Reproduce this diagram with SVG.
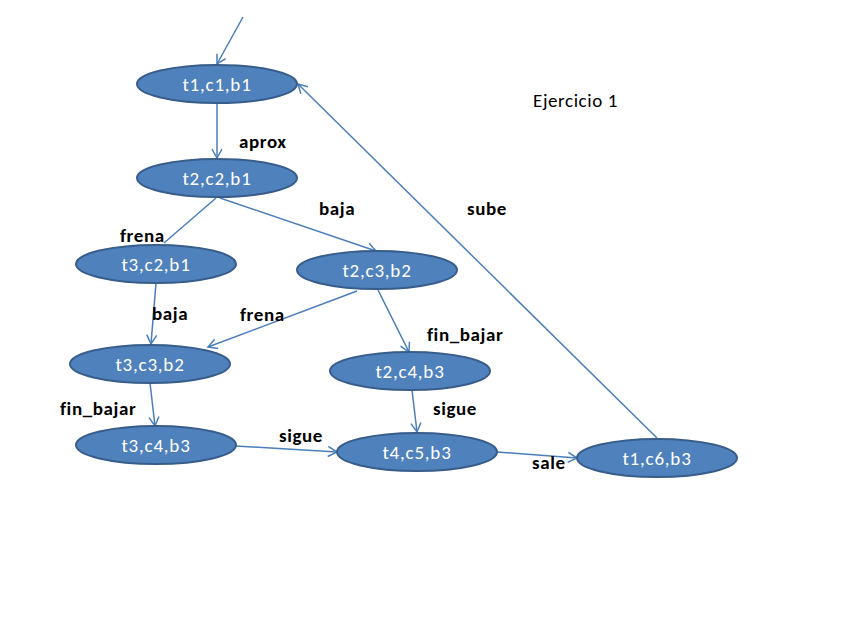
<svg xmlns="http://www.w3.org/2000/svg" width="848" height="636" viewBox="0 0 848 636">
<defs>
<marker id="ah" markerWidth="12" markerHeight="12" refX="10" refY="6" orient="auto" markerUnits="userSpaceOnUse">
<path d="M1,1 L10,6 L1,11" fill="none" stroke="#4A7EBB" stroke-width="1.5"/>
</marker>
<style>
.n ellipse{fill:#4F81BD;stroke:#385D8A;stroke-width:2}
.n text{fill:#fff;font-family:Carlito,"Liberation Sans",sans-serif;font-size:19px;letter-spacing:0.8px;text-anchor:middle}
.c line{stroke:#4A7EBB;stroke-width:1.5;fill:none}
.l{font-family:Carlito,"Liberation Sans",sans-serif;font-size:19px;font-weight:bold;letter-spacing:0.6px;fill:#000}
</style>
</defs>
<rect width="848" height="636" fill="#fff"/>
<g id="connectors" class="c">
<line x1="243" y1="17" x2="217" y2="64" marker-end="url(#ah)"/>
<line x1="217" y1="103" x2="217" y2="158" marker-end="url(#ah)"/>
<line x1="216" y1="198" x2="164" y2="243"/>
<line x1="220" y1="198" x2="376" y2="251" marker-end="url(#ah)"/>
<line x1="156" y1="283" x2="151" y2="344" marker-end="url(#ah)"/>
<line x1="357" y1="291" x2="208" y2="347" marker-end="url(#ah)"/>
<line x1="378" y1="290" x2="409" y2="352" marker-end="url(#ah)"/>
<line x1="150" y1="383" x2="155" y2="426" marker-end="url(#ah)"/>
<line x1="412" y1="390" x2="417" y2="432" marker-end="url(#ah)"/>
<line x1="236" y1="446" x2="337" y2="452" marker-end="url(#ah)"/>
<line x1="497" y1="452" x2="577" y2="458" marker-end="url(#ah)"/>
<line x1="657" y1="438" x2="298" y2="84" marker-end="url(#ah)"/>
</g>
<g id="n1" class="n"><ellipse cx="217" cy="84" rx="80" ry="19"/><text x="217" y="91">t1,c1,b1</text></g>
<g id="n2" class="n"><ellipse cx="217" cy="178" rx="80" ry="19"/><text x="217" y="185">t2,c2,b1</text></g>
<g id="n3" class="n"><ellipse cx="156" cy="264" rx="80" ry="19"/><text x="156" y="271">t3,c2,b1</text></g>
<g id="n4" class="n"><ellipse cx="377" cy="270" rx="80" ry="19"/><text x="377" y="277">t2,c3,b2</text></g>
<g id="n5" class="n"><ellipse cx="150" cy="364" rx="80" ry="19"/><text x="150" y="371">t3,c3,b2</text></g>
<g id="n6" class="n"><ellipse cx="410" cy="371" rx="80" ry="19"/><text x="410" y="378">t2,c4,b3</text></g>
<g id="n7" class="n"><ellipse cx="156" cy="445" rx="80" ry="19"/><text x="156" y="452">t3,c4,b3</text></g>
<g id="n8" class="n"><ellipse cx="417" cy="452" rx="80" ry="19"/><text x="417" y="459">t4,c5,b3</text></g>
<g id="n9" class="n"><ellipse cx="657" cy="458" rx="80" ry="19"/><text x="657" y="465">t1,c6,b3</text></g>
<g id="labels">
<text class="l" x="239" y="148">aprox</text>
<text class="l" x="319" y="215">baja</text>
<text class="l" x="120" y="242">frena</text>
<text class="l" x="467" y="215">sube</text>
<text class="l" x="533" y="107" style="font-weight:normal;font-size:19px">Ejercicio 1</text>
<text class="l" x="152" y="320">baja</text>
<text class="l" x="240" y="321">frena</text>
<text class="l" x="427" y="341">fin_bajar</text>
<text class="l" x="60" y="415">fin_bajar</text>
<text class="l" x="433" y="415">sigue</text>
<text class="l" x="279" y="442">sigue</text>
<text class="l" x="532" y="469">sale</text>
</g>
</svg>
